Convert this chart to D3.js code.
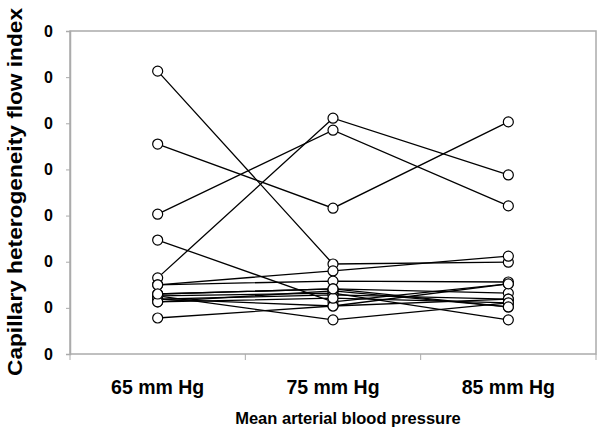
<!DOCTYPE html>
<html>
<head>
<meta charset="utf-8">
<script src="https://cdn.jsdelivr.net/npm/d3@7"></script>
<style>
  body { margin: 0; background: #fff; }
  text { font-family: Arial, "Liberation Sans", sans-serif; font-weight: bold; fill: #000; }
</style>
</head>
<body>
<svg width="600" height="440"></svg>
<script>
// categories on the x axis
var categories = ["65 mm Hg", "75 mm Hg", "85 mm Hg"];
// one value per subject at each pressure level (same order in each array)
var at65 = [0.613, 0.455, 0.303, 0.247, 0.165, 0.150, 0.150, 0.130, 0.126, 0.126, 0.119, 0.113, 0.078, 0.119, 0.113, 0.130];
var at75 = [0.195, 0.316, 0.485, 0.113, 0.511, 0.180, 0.158, 0.141, 0.132, 0.074, 0.128, 0.137, 0.104, 0.104, 0.121, 0.141];
var at85 = [0.199, 0.503, 0.321, 0.152, 0.388, 0.212, 0.156, 0.132, 0.074, 0.111, 0.119, 0.102, 0.119, 0.152, 0.111, 0.102];
var yTicks = [0, 0.1, 0.2, 0.3, 0.4, 0.5, 0.6, 0.7];

var svg = d3.select("svg");
// note: "top" is taken by window.top, so use plot* names
var plotLeft = 70, plotRight = 596, plotTop = 31, plotBottom = 354;

var x = d3.scaleBand().domain(categories).range([plotLeft, plotRight]).padding(0);
var y = d3.scaleLinear().domain([0, 0.7]).range([plotBottom, plotTop]);

// build subject rows from the three arrays
var subjects = at65.map(function (v, i) {
  return [v, at75[i], at85[i]].map(function (val, j) {
    return { cat: categories[j], value: val };
  });
});

// frame
svg.append("rect")
  .attr("x", plotLeft).attr("y", plotTop)
  .attr("width", plotRight - plotLeft).attr("height", plotBottom - plotTop)
  .attr("fill", "none")
  .attr("stroke", "#ababab")
  .attr("stroke-width", 1.5);

// y axis - the original labels every tick as "0" (integer format, truncated)
var yAxis = svg.append("g")
  .attr("transform", "translate(" + plotLeft + ",0)")
  .call(d3.axisLeft(y).tickValues(yTicks)
    .tickFormat(function (d) { return d3.format("d")(Math.floor(d)); })
    .tickSize(4).tickPadding(13));
yAxis.select(".domain").attr("stroke", "#ababab").attr("stroke-width", 1.5);
yAxis.selectAll(".tick line").attr("stroke", "#ababab").attr("stroke-width", 1);
yAxis.selectAll(".tick text")
  .attr("font-size", 16)
  .attr("font-family", "Arial, 'Liberation Sans', sans-serif")
  .attr("font-weight", "bold")
  .attr("fill", "#000");

// x axis: labels at band centres, ticks at band boundaries
var xAxis = svg.append("g")
  .attr("transform", "translate(0," + plotBottom + ")")
  .call(d3.axisBottom(x).tickSize(0).tickPadding(26));
xAxis.select(".domain").remove();
xAxis.selectAll(".tick text")
  .attr("font-size", 19.5)
  .attr("font-family", "Arial, 'Liberation Sans', sans-serif")
  .attr("font-weight", "bold")
  .attr("fill", "#000");

var bounds = categories.map(function (c) { return x(c); }).concat([x(categories[2]) + x.bandwidth()]);
svg.append("g").selectAll("line")
  .data(bounds)
  .enter()
  .append("line")
  .attr("x1", function (d) { return d; })
  .attr("x2", function (d) { return d; })
  .attr("y1", plotBottom)
  .attr("y2", plotBottom + 6)
  .attr("stroke", "#ababab")
  .attr("stroke-width", 1);

// subject lines
var line = d3.line()
  .x(function (d) { return x(d.cat) + x.bandwidth() / 2; })
  .y(function (d) { return y(d.value); });

svg.append("g").selectAll("path")
  .data(subjects)
  .enter()
  .append("path")
  .attr("d", line)
  .attr("fill", "none")
  .attr("stroke", "#000")
  .attr("stroke-width", 1.3);

// markers
svg.append("g").selectAll("circle")
  .data(subjects.flat())
  .enter()
  .append("circle")
  .attr("cx", function (d) { return x(d.cat) + x.bandwidth() / 2; })
  .attr("cy", function (d) { return y(d.value); })
  .attr("r", 5)
  .attr("fill", "#fff")
  .attr("stroke", "#000")
  .attr("stroke-width", 1.2);

// axis titles
svg.append("text")
  .attr("transform", "translate(22,192) rotate(-90)")
  .attr("text-anchor", "middle")
  .attr("font-size", 21)
  .attr("textLength", 368)
  .attr("lengthAdjust", "spacingAndGlyphs")
  .text("Capillary heterogeneity flow index");

svg.append("text")
  .attr("x", 348)
  .attr("y", 424)
  .attr("text-anchor", "middle")
  .attr("font-size", 16.5)
  .text("Mean arterial blood pressure");
</script>
</body>
</html>
